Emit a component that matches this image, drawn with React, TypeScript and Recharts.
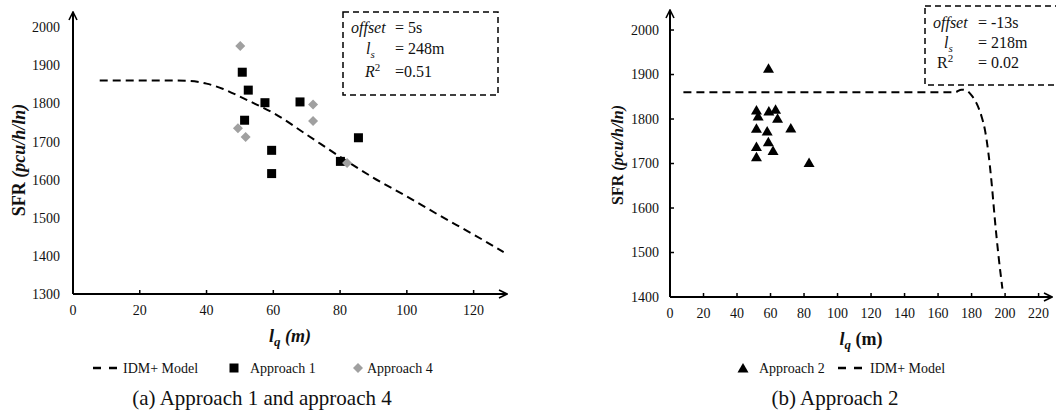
import { ComposedChart, Line, Scatter, XAxis, YAxis } from "recharts";

// IDM+ model curve, approach 1 / approach 4 (panel a)
const idmLeftX = [8, 20, 30, 35, 40, 45, 50, 55, 60, 70, 80, 90, 100, 110, 120, 129];
const idmLeftY = [1860, 1860, 1860, 1859, 1852, 1838, 1818, 1797, 1775, 1718, 1660, 1605, 1556, 1505, 1456, 1410];

const approach1X = [50.7, 52.5, 57.5, 51.4, 68, 59.5, 59.5, 80.1, 85.5];
const approach1Y = [1882, 1835, 1802, 1756, 1804, 1677, 1616, 1648, 1710];

const approach4X = [50.1, 49.4, 51.7, 71.9, 71.9, 82.1];
const approach4Y = [1951, 1735, 1712, 1797, 1754, 1644];

// IDM+ model curve, approach 2 (panel b)
const idmRightX = [8, 60, 120, 170, 174, 177, 180, 183, 186, 188, 190, 192, 194, 196, 198.4];
const idmRightY = [1860, 1860, 1860, 1860, 1866, 1864, 1853, 1835, 1805, 1775, 1725, 1655, 1570, 1495, 1419];

const approach2X = [58.8, 51.6, 52.6, 59, 63, 64.2, 51.6, 58, 72.1, 51.6, 58.7, 61.5, 51.6, 83];
const approach2Y = [1914, 1820, 1807, 1818, 1822, 1802, 1779, 1773, 1780, 1738, 1749, 1729, 1715, 1702];

const leftXTicks = [0, 20, 40, 60, 80, 100, 120];
const leftYTicks = [1300, 1400, 1500, 1600, 1700, 1800, 1900, 2000];
const rightXTicks = [0, 20, 40, 60, 80, 100, 120, 140, 160, 180, 200, 220];
const rightYTicks = [1400, 1500, 1600, 1700, 1800, 1900, 2000];

const zip = (xs: number[], ys: number[]) => xs.map((x, i) => ({ x, y: ys[i] }));

const FONT = "'Liberation Serif', 'Times New Roman', serif";
const tickStyle = { fill: "#111", fontSize: 14, fontFamily: FONT };
const axisLineX = { stroke: "#000", strokeWidth: 2, markerEnd: "url(#arrowHead)" };
const axisLineY = { stroke: "#000", strokeWidth: 2, markerStart: "url(#arrowHead)" };

const Square = (p: any) => (
  <rect x={p.cx - 4.5} y={p.cy - 4.5} width={9} height={9} fill="#000" />
);
const Diamond = (p: any) => (
  <polygon
    points={`${p.cx},${p.cy - 5} ${p.cx + 5},${p.cy} ${p.cx},${p.cy + 5} ${p.cx - 5},${p.cy}`}
    fill="#A0A0A0"
  />
);
const Triangle = (p: any) => (
  <polygon
    points={`${p.cx},${p.cy - 5} ${p.cx + 5.5},${p.cy + 4.5} ${p.cx - 5.5},${p.cy + 4.5}`}
    fill="#000"
  />
);

const XLabel = ({ viewBox, italicM }: any) => {
  const cx = viewBox.x + viewBox.width / 2;
  return (
    <text
      x={cx}
      y={viewBox.y + 48}
      textAnchor="middle"
      fontFamily={FONT}
      fontWeight="bold"
      fontSize={18}
      fill="#111"
    >
      <tspan fontStyle="italic">l</tspan>
      <tspan fontStyle="italic" fontSize={13} dy={4}>q</tspan>
      <tspan dy={-4} fontStyle={italicM ? "italic" : "normal"}> (m)</tspan>
    </text>
  );
};

const YLabel = ({ x, y, size }: { x: number; y: number; size: number }) => (
  <text
    x={x}
    y={y}
    transform={`rotate(-90 ${x} ${y})`}
    textAnchor="middle"
    dominantBaseline="central"
    fontFamily={FONT}
    fontWeight="bold"
    fontSize={size}
    fill="#111"
  >
    SFR <tspan fontStyle="italic">(pcu/h/ln)</tspan>
  </text>
);

const Dashes = ({ x, y }: { x: number; y: number }) => (
  <line x1={x} y1={y} x2={x + 24} y2={y} stroke="#000" strokeWidth={2.5} strokeDasharray="8 8" />
);

export default function App() {
  return (
    <div
      style={{
        position: "fixed",
        left: 0,
        top: 0,
        width: 1056,
        height: 411,
        background: "#fff",
        fontFamily: FONT,
      }}
    >
      <svg width={0} height={0} style={{ position: "absolute" }}>
        <defs>
          <marker
            id="arrowHead"
            viewBox="0 0 10 10"
            refX={9}
            refY={5}
            markerWidth={10}
            markerHeight={10}
            markerUnits="userSpaceOnUse"
            orient="auto-start-reverse"
          >
            <path d="M1,1 L9,5 L1,9" fill="none" stroke="#000" strokeWidth={1.6} />
          </marker>
        </defs>
      </svg>

      <div style={{ position: "absolute", left: 0, top: 0 }}>
        <ComposedChart width={530} height={411} margin={{ top: 12, right: 23, bottom: 87, left: 0 }}>
          <XAxis
            type="number"
            dataKey="x"
            domain={[0, 130]}
            ticks={leftXTicks}
            height={30}
            axisLine={axisLineX}
            tickLine={{ stroke: "#000", strokeWidth: 1.5 }}
            tickSize={-4}
            tickMargin={15}
            tick={tickStyle}
            label={<XLabel italicM />}
          />
          <YAxis
            type="number"
            dataKey="y"
            domain={[1300, 2040]}
            ticks={leftYTicks}
            width={73}
            axisLine={axisLineY}
            tickLine={false}
            tickSize={0}
            tickMargin={13}
            tick={tickStyle}
          />
          <Line
            data={zip(idmLeftX, idmLeftY)}
            dataKey="y"
            type="monotone"
            stroke="#000"
            strokeWidth={2}
            strokeDasharray="8 5"
            dot={false}
            activeDot={false}
            isAnimationActive={false}
          />
          <Scatter data={zip(approach1X, approach1Y)} shape={Square} isAnimationActive={false} />
          <Scatter data={zip(approach4X, approach4Y)} shape={Diamond} isAnimationActive={false} />
        </ComposedChart>
      </div>

      <div style={{ position: "absolute", left: 530, top: 0 }}>
        <ComposedChart width={526} height={411} margin={{ top: 10, right: 4, bottom: 84, left: 0 }}>
          <XAxis
            type="number"
            dataKey="x"
            domain={[0, 228]}
            ticks={rightXTicks}
            height={30}
            axisLine={axisLineX}
            tickLine={{ stroke: "#000", strokeWidth: 1.5 }}
            tickSize={-4}
            tickMargin={15}
            tick={tickStyle}
            label={<XLabel />}
          />
          <YAxis
            type="number"
            dataKey="y"
            domain={[1400, 2045]}
            ticks={rightYTicks}
            width={140}
            axisLine={axisLineY}
            tickLine={{ stroke: "#000", strokeWidth: 1.5 }}
            tickSize={-4}
            tickMargin={15}
            tick={tickStyle}
          />
          <Line
            data={zip(idmRightX, idmRightY)}
            dataKey="y"
            type="monotone"
            stroke="#000"
            strokeWidth={2}
            strokeDasharray="8 5"
            dot={false}
            activeDot={false}
            isAnimationActive={false}
          />
          <Scatter data={zip(approach2X, approach2Y)} shape={Triangle} isAnimationActive={false} />
        </ComposedChart>
      </div>

      {/* annotations, axis titles, legends, captions */}
      <svg
        width={1056}
        height={411}
        style={{ position: "absolute", left: 0, top: 0, pointerEvents: "none" }}
        fontFamily={FONT}
      >
        <YLabel x={19} y={160} size={18} />
        <YLabel x={617} y={155} size={16} />

        <rect x={343} y={12} width={155} height={83} fill="#fff" stroke="#000" strokeWidth={1.5} strokeDasharray="6 4" />
        <g fontSize={16} fill="#111">
          <text x={351} y={33}><tspan fontStyle="italic">offset</tspan></text>
          <text x={395} y={33}>= 5s</text>
          <text x={366} y={54}><tspan fontStyle="italic">l</tspan><tspan fontStyle="italic" fontSize={11} dy={4}>s</tspan></text>
          <text x={395} y={54}>= 248m</text>
          <text x={365} y={77}><tspan fontStyle="italic">R</tspan><tspan fontSize={11} dy={-6}>2</tspan></text>
          <text x={395} y={77}>=0.51</text>
        </g>

        <rect x={925} y={6} width={140} height={79} fill="#fff" stroke="#000" strokeWidth={1.5} strokeDasharray="6 4" />
        <g fontSize={16} fill="#111">
          <text x={933} y={28}><tspan fontStyle="italic">offset</tspan></text>
          <text x={978} y={28}>= -13s</text>
          <text x={944} y={48}><tspan fontStyle="italic">l</tspan><tspan fontStyle="italic" fontSize={11} dy={4}>s</tspan></text>
          <text x={978} y={48}>= 218m</text>
          <text x={937} y={68}>R<tspan fontSize={11} dy={-6}>2</tspan></text>
          <text x={978} y={68}>= 0.02</text>
        </g>

        <g fontSize={14} fill="#111">
          <Dashes x={93} y={368} />
          <text x={123} y={373}>IDM+ Model</text>
          <Square cx={234} cy={368} />
          <text x={250} y={373}>Approach 1</text>
          <Diamond cx={358} cy={368} />
          <text x={367} y={373}>Approach 4</text>

          <Triangle cx={743} cy={368} />
          <text x={759} y={373}>Approach 2</text>
          <Dashes x={838} y={368} />
          <text x={870} y={373}>IDM+ Model</text>
        </g>

        <g fontSize={21} fill="#111" textAnchor="middle">
          <text x={262} y={405}>(a) Approach 1 and approach 4</text>
          <text x={835} y={405}>(b) Approach 2</text>
        </g>
      </svg>
    </div>
  );
}
